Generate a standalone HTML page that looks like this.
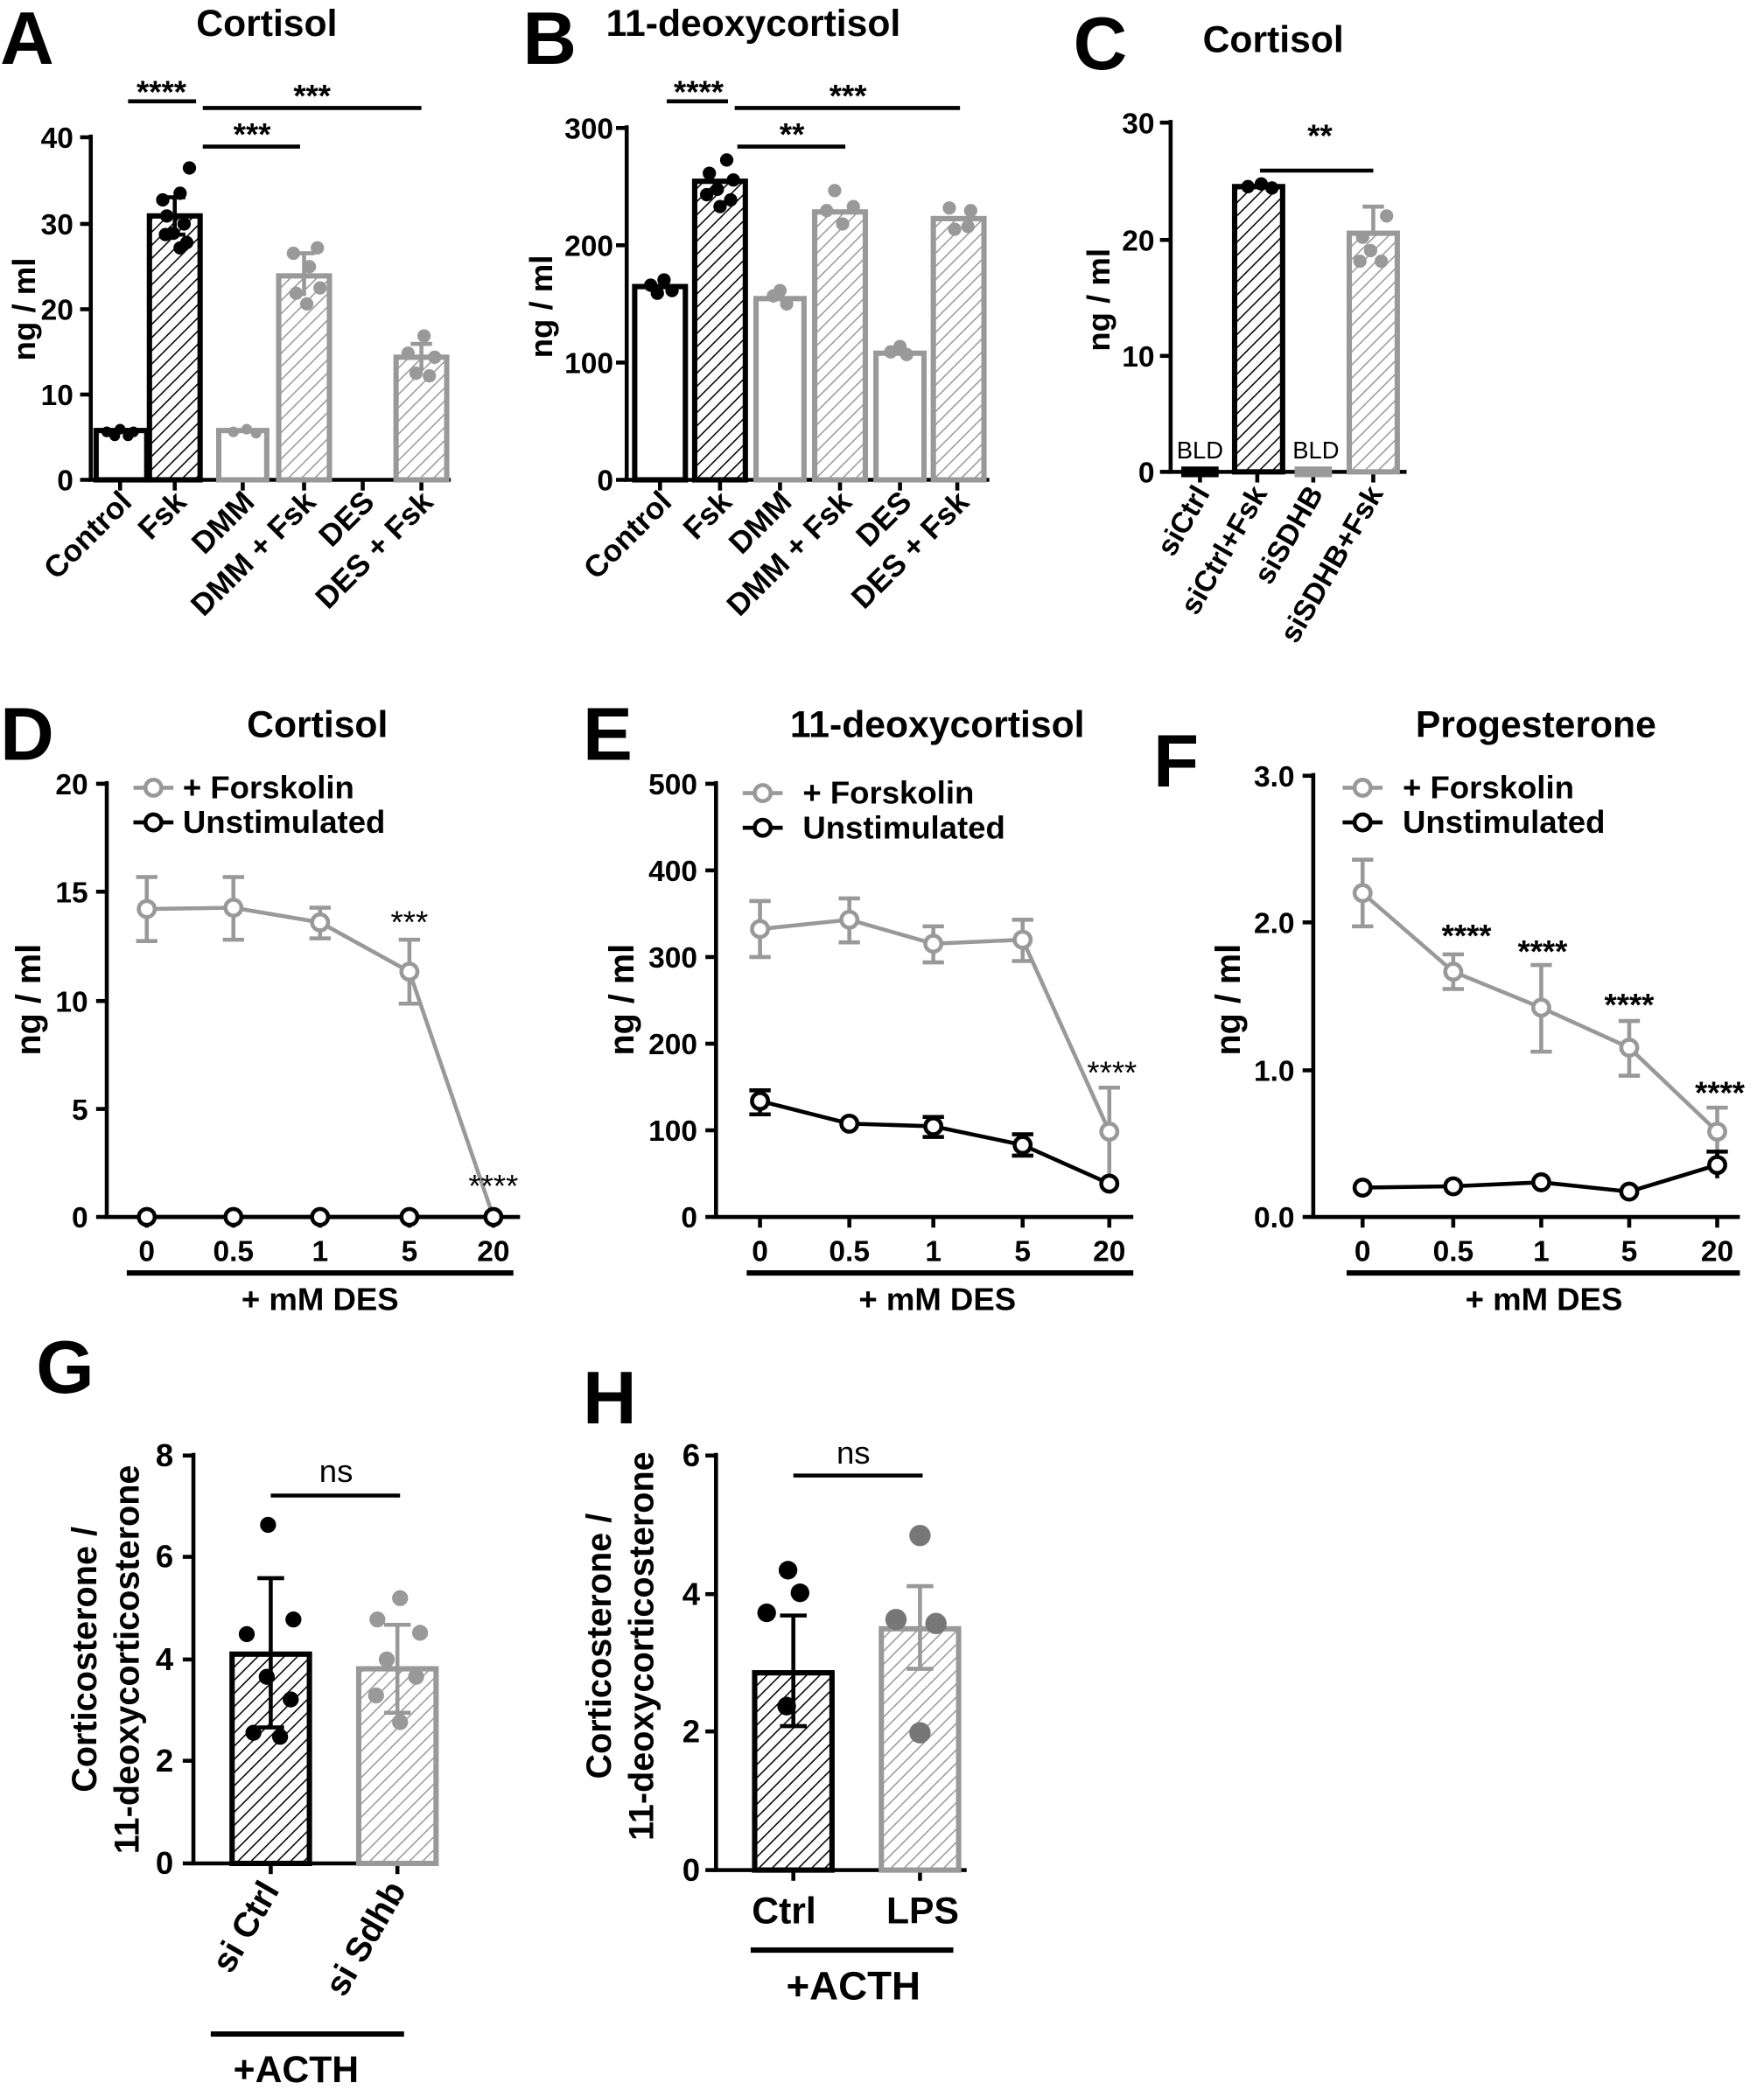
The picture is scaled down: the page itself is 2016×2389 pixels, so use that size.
<!DOCTYPE html>
<html><head><meta charset="utf-8"><style>
html,body{margin:0;padding:0;background:#fff}
svg{display:block}
text{font-family:"Liberation Sans",Arial,sans-serif;font-weight:bold;fill:#000}
</style></head><body>
<svg width="2016" height="2389" viewBox="0 0 1323 1568" xmlns="http://www.w3.org/2000/svg">
<defs>
<pattern id="hk" patternUnits="userSpaceOnUse" width="7" height="7" patternTransform="rotate(45)"><line x1="0" y1="0" x2="0" y2="7" stroke="#000" stroke-width="2"/></pattern>
<pattern id="hg" patternUnits="userSpaceOnUse" width="7" height="7" patternTransform="rotate(45)"><line x1="0" y1="0" x2="0" y2="7" stroke="#999" stroke-width="2"/></pattern>
</defs>
<g stroke-linecap="butt">
<text x="0" y="48" font-size="56">A</text>
<text x="392" y="48" font-size="56">B</text>
<text x="805" y="52" font-size="56">C</text>
<text x="0" y="570" font-size="56">D</text>
<text x="437" y="570" font-size="56">E</text>
<text x="865" y="590" font-size="56">F</text>
<text x="27" y="1045" font-size="56">G</text>
<text x="437" y="1068" font-size="56">H</text>

<!-- ===== Panel A ===== -->
<text x="200" y="27" font-size="28" text-anchor="middle">Cortisol</text>
<text transform="translate(26,232) rotate(-90)" font-size="24" text-anchor="middle">ng / ml</text>
<g stroke="#000" stroke-width="3" fill="none">
<line x1="68" y1="101" x2="68" y2="361"/><line x1="66" y1="360" x2="338" y2="360"/>
<line x1="60" y1="103" x2="68" y2="103"/><line x1="60" y1="168" x2="68" y2="168"/><line x1="60" y1="232" x2="68" y2="232"/><line x1="60" y1="296" x2="68" y2="296"/><line x1="60" y1="360" x2="68" y2="360"/>
<line x1="90" y1="360" x2="90" y2="368"/><line x1="131" y1="360" x2="131" y2="368"/><line x1="182" y1="360" x2="182" y2="368"/><line x1="228" y1="360" x2="228" y2="368"/><line x1="272" y1="360" x2="272" y2="368"/><line x1="316" y1="360" x2="316" y2="368"/>
<line x1="96" y1="76" x2="147" y2="76"/><line x1="152" y1="81" x2="316" y2="81"/><line x1="152" y1="110" x2="225" y2="110"/>
</g>
<g font-size="22" text-anchor="end">
<text x="55" y="111">40</text><text x="55" y="176">30</text><text x="55" y="240">20</text><text x="55" y="304">10</text><text x="55" y="368">0</text>
</g>
<g font-size="24" text-anchor="middle"><text x="121" y="77">****</text><text x="234" y="80">***</text><text x="189" y="109">***</text></g>
<rect x="72" y="323" width="38" height="37" fill="#fff" stroke="#000" stroke-width="4"/>
<rect x="112" y="162" width="38" height="198" fill="url(#hk)" stroke="#000" stroke-width="4"/>
<rect x="164" y="323" width="36" height="37" fill="#fff" stroke="#999" stroke-width="4"/>
<rect x="209" y="207" width="38" height="153" fill="url(#hg)" stroke="#999" stroke-width="4"/>
<rect x="297" y="268" width="38" height="92" fill="url(#hg)" stroke="#999" stroke-width="4"/>
<g stroke-width="3" fill="none"><path d="M131 148V176M123 148H139M123 176H139" stroke="#000"/><path d="M228 190V222M220 190H236" stroke="#999"/><path d="M316 258V278M308 258H324" stroke="#999"/></g>
<g fill="#000"><circle cx="80" cy="324" r="4"/><circle cx="90" cy="322" r="4"/><circle cx="100" cy="324" r="4"/><circle cx="86" cy="327" r="4"/><circle cx="96" cy="327" r="4"/>
<circle cx="142" cy="126" r="5"/><circle cx="122" cy="150" r="5"/><circle cx="135" cy="145" r="5"/><circle cx="125" cy="162" r="5"/><circle cx="138" cy="168" r="5"/><circle cx="130" cy="175" r="5"/><circle cx="140" cy="182" r="5"/><circle cx="124" cy="176" r="5"/><circle cx="135" cy="186" r="5"/></g>
<g fill="#999"><circle cx="175" cy="324" r="4"/><circle cx="185" cy="322" r="4"/><circle cx="192" cy="325" r="4"/>
<circle cx="238" cy="186" r="5"/><circle cx="220" cy="190" r="5"/><circle cx="232" cy="200" r="5"/><circle cx="222" cy="220" r="5"/><circle cx="240" cy="216" r="5"/><circle cx="230" cy="228" r="5"/>
<circle cx="318" cy="252" r="5"/><circle cx="306" cy="265" r="5"/><circle cx="326" cy="268" r="5"/><circle cx="312" cy="280" r="5"/><circle cx="322" cy="282" r="5"/></g>
<g font-size="23" text-anchor="end">
<text transform="translate(100,378) rotate(-45)">Control</text><text transform="translate(141,378) rotate(-45)">Fsk</text><text transform="translate(192,378) rotate(-45)">DMM</text><text transform="translate(238,378) rotate(-45)">DMM + Fsk</text><text transform="translate(282,378) rotate(-45)">DES</text><text transform="translate(326,378) rotate(-45)">DES + Fsk</text>
</g>

<!-- ===== Panel B ===== -->
<text x="565" y="27" font-size="28" text-anchor="middle">11-deoxycortisol</text>
<text transform="translate(414,230) rotate(-90)" font-size="24" text-anchor="middle">ng / ml</text>
<g stroke="#000" stroke-width="3" fill="none">
<line x1="470" y1="94" x2="470" y2="361"/><line x1="468" y1="360" x2="742" y2="360"/>
<line x1="462" y1="96" x2="470" y2="96"/><line x1="462" y1="184" x2="470" y2="184"/><line x1="462" y1="272" x2="470" y2="272"/><line x1="462" y1="360" x2="470" y2="360"/>
<line x1="495" y1="360" x2="495" y2="368"/><line x1="540" y1="360" x2="540" y2="368"/><line x1="585" y1="360" x2="585" y2="368"/><line x1="630" y1="360" x2="630" y2="368"/><line x1="675" y1="360" x2="675" y2="368"/><line x1="718" y1="360" x2="718" y2="368"/>
<line x1="500" y1="76" x2="546" y2="76"/><line x1="551" y1="81" x2="720" y2="81"/><line x1="553" y1="110" x2="634" y2="110"/>
</g>
<g font-size="22" text-anchor="end"><text x="460" y="104">300</text><text x="460" y="192">200</text><text x="460" y="280">100</text><text x="460" y="368">0</text></g>
<g font-size="24" text-anchor="middle"><text x="524" y="77">****</text><text x="636" y="80">***</text><text x="594" y="109">**</text></g>
<rect x="476" y="215" width="38" height="145" fill="#fff" stroke="#000" stroke-width="4"/>
<rect x="521" y="136" width="38" height="224" fill="url(#hk)" stroke="#000" stroke-width="4"/>
<rect x="567" y="224" width="36" height="136" fill="#fff" stroke="#999" stroke-width="4"/>
<rect x="611" y="159" width="38" height="201" fill="url(#hg)" stroke="#999" stroke-width="4"/>
<rect x="657" y="265" width="36" height="95" fill="#fff" stroke="#999" stroke-width="4"/>
<rect x="700" y="164" width="38" height="196" fill="url(#hg)" stroke="#999" stroke-width="4"/>
<g fill="#000"><circle cx="488" cy="214" r="5"/><circle cx="498" cy="210" r="5"/><circle cx="504" cy="218" r="5"/><circle cx="493" cy="220" r="5"/>
<circle cx="545" cy="120" r="5"/><circle cx="532" cy="130" r="5"/><circle cx="550" cy="135" r="5"/><circle cx="538" cy="142" r="5"/><circle cx="548" cy="150" r="5"/><circle cx="530" cy="146" r="5"/><circle cx="540" cy="155" r="5"/></g>
<g fill="#999"><circle cx="580" cy="222" r="5"/><circle cx="590" cy="228" r="5"/><circle cx="585" cy="218" r="5"/>
<circle cx="626" cy="143" r="5"/><circle cx="620" cy="158" r="5"/><circle cx="640" cy="155" r="5"/><circle cx="632" cy="168" r="5"/>
<circle cx="668" cy="264" r="5"/><circle cx="680" cy="266" r="5"/><circle cx="675" cy="260" r="5"/>
<circle cx="712" cy="156" r="5"/><circle cx="728" cy="158" r="5"/><circle cx="716" cy="172" r="5"/><circle cx="726" cy="170" r="5"/></g>
<g font-size="23" text-anchor="end">
<text transform="translate(505,378) rotate(-45)">Control</text><text transform="translate(550,378) rotate(-45)">Fsk</text><text transform="translate(595,378) rotate(-45)">DMM</text><text transform="translate(640,378) rotate(-45)">DMM + Fsk</text><text transform="translate(685,378) rotate(-45)">DES</text><text transform="translate(728,378) rotate(-45)">DES + Fsk</text>
</g>

<!-- ===== Panel C ===== -->
<text x="955" y="39" font-size="28" text-anchor="middle">Cortisol</text>
<text transform="translate(832,225) rotate(-90)" font-size="24" text-anchor="middle">ng / ml</text>
<g stroke="#000" stroke-width="3" fill="none">
<line x1="878" y1="90" x2="878" y2="355"/><line x1="876" y1="354" x2="1055" y2="354"/>
<line x1="870" y1="92" x2="878" y2="92"/><line x1="870" y1="180" x2="878" y2="180"/><line x1="870" y1="267" x2="878" y2="267"/><line x1="870" y1="354" x2="878" y2="354"/>
<line x1="900" y1="354" x2="900" y2="362"/><line x1="943" y1="354" x2="943" y2="362"/><line x1="985" y1="354" x2="985" y2="362"/><line x1="1030" y1="354" x2="1030" y2="362"/>
<line x1="945" y1="128" x2="1030" y2="128"/>
</g>
<g font-size="22" text-anchor="end"><text x="866" y="100">30</text><text x="866" y="188">20</text><text x="866" y="275">10</text><text x="866" y="362">0</text></g>
<text x="990" y="110" font-size="24" text-anchor="middle">**</text>
<g font-size="18" text-anchor="middle"><text x="900" y="344" style="font-weight:normal">BLD</text><text x="987" y="344" style="font-weight:normal">BLD</text></g>
<line x1="886" y1="354" x2="914" y2="354" stroke="#000" stroke-width="8"/>
<line x1="971" y1="354" x2="999" y2="354" stroke="#999" stroke-width="8"/>
<rect x="926" y="140" width="36" height="214" fill="url(#hk)" stroke="#000" stroke-width="4"/>
<rect x="1012" y="175" width="36" height="179" fill="url(#hg)" stroke="#999" stroke-width="4"/>
<path d="M1030 155V175M1022 155H1038" stroke="#999" stroke-width="3"/>
<g fill="#000"><circle cx="936" cy="140" r="5"/><circle cx="946" cy="138" r="5"/><circle cx="954" cy="141" r="5"/></g>
<g fill="#999"><circle cx="1040" cy="162" r="5"/><circle cx="1022" cy="178" r="5"/><circle cx="1028" cy="188" r="5"/><circle cx="1036" cy="196" r="5"/><circle cx="1020" cy="196" r="5"/></g>
<g font-size="22" text-anchor="end">
<text transform="translate(908,370) rotate(-60)">siCtrl</text><text transform="translate(951,370) rotate(-60)">siCtrl+Fsk</text><text transform="translate(993,370) rotate(-60)">siSDHB</text><text transform="translate(1038,370) rotate(-60)">siSDHB+Fsk</text>
</g>

<!-- ===== Panel D ===== -->
<text x="238" y="553" font-size="28" text-anchor="middle">Cortisol</text>
<text transform="translate(30,750) rotate(-90)" font-size="26" text-anchor="middle">ng / ml</text>
<g stroke="#000" stroke-width="3" fill="none">
<line x1="80" y1="586" x2="80" y2="914"/><line x1="78" y1="913" x2="390" y2="913"/>
<line x1="72" y1="588" x2="80" y2="588"/><line x1="72" y1="669" x2="80" y2="669"/><line x1="72" y1="751" x2="80" y2="751"/><line x1="72" y1="832" x2="80" y2="832"/><line x1="72" y1="913" x2="80" y2="913"/>
<line x1="110" y1="913" x2="110" y2="921"/><line x1="175" y1="913" x2="175" y2="921"/><line x1="240" y1="913" x2="240" y2="921"/><line x1="307" y1="913" x2="307" y2="921"/><line x1="370" y1="913" x2="370" y2="921"/>
<line x1="95" y1="955" x2="385" y2="955" stroke-width="4"/>
</g>
<g font-size="22" text-anchor="end"><text x="66" y="596">20</text><text x="66" y="677">15</text><text x="66" y="759">10</text><text x="66" y="840">5</text><text x="66" y="921">0</text></g>
<g font-size="22" text-anchor="middle"><text x="110" y="946">0</text><text x="175" y="946">0.5</text><text x="240" y="946">1</text><text x="307" y="946">5</text><text x="370" y="946">20</text></g>
<text x="240" y="983" font-size="24" text-anchor="middle">+ mM DES</text>
<g stroke="#999" stroke-width="3" fill="none"><path d="M110 682L175 681L240 692L307 729L370 913"/><path d="M110 658V706M102 658H118M102 706H118M175 658V705M167 658H183M167 705H183M240 681V704M232 681H248M232 704H248M307 705V753M299 705H315M299 753H315"/></g>
<g fill="#fff" stroke="#999" stroke-width="3"><circle cx="110" cy="682" r="6"/><circle cx="175" cy="681" r="6"/><circle cx="240" cy="692" r="6"/><circle cx="307" cy="729" r="6"/></g>
<line x1="110" y1="913" x2="370" y2="913" stroke="#000" stroke-width="3"/>
<g fill="#fff" stroke="#000" stroke-width="3"><circle cx="110" cy="913" r="6"/><circle cx="175" cy="913" r="6"/><circle cx="240" cy="913" r="6"/><circle cx="307" cy="913" r="6"/><circle cx="370" cy="913" r="6"/></g>
<g font-size="24" text-anchor="middle"><text x="307" y="700" style="font-weight:normal">***</text><text x="370" y="898" style="font-weight:normal">****</text></g>
<line x1="100" y1="591" x2="130" y2="591" stroke="#999" stroke-width="3"/><circle cx="115" cy="591" r="6" fill="#fff" stroke="#999" stroke-width="3"/>
<line x1="100" y1="617" x2="130" y2="617" stroke="#000" stroke-width="3"/><circle cx="115" cy="617" r="6" fill="#fff" stroke="#000" stroke-width="3"/>
<text x="137" y="599" font-size="24">+ Forskolin</text><text x="137" y="625" font-size="24">Unstimulated</text>

<!-- ===== Panel E ===== -->
<text x="703" y="553" font-size="28" text-anchor="middle">11-deoxycortisol</text>
<text transform="translate(475,750) rotate(-90)" font-size="26" text-anchor="middle">ng / ml</text>
<g stroke="#000" stroke-width="3" fill="none">
<line x1="537" y1="586" x2="537" y2="914"/><line x1="535" y1="913" x2="850" y2="913"/>
<line x1="529" y1="588" x2="537" y2="588"/><line x1="529" y1="653" x2="537" y2="653"/><line x1="529" y1="718" x2="537" y2="718"/><line x1="529" y1="783" x2="537" y2="783"/><line x1="529" y1="848" x2="537" y2="848"/><line x1="529" y1="913" x2="537" y2="913"/>
<line x1="570" y1="913" x2="570" y2="921"/><line x1="637" y1="913" x2="637" y2="921"/><line x1="700" y1="913" x2="700" y2="921"/><line x1="767" y1="913" x2="767" y2="921"/><line x1="832" y1="913" x2="832" y2="921"/>
<line x1="560" y1="955" x2="850" y2="955" stroke-width="4"/>
</g>
<g font-size="22" text-anchor="end"><text x="523" y="596">500</text><text x="523" y="661">400</text><text x="523" y="726">300</text><text x="523" y="791">200</text><text x="523" y="856">100</text><text x="523" y="921">0</text></g>
<g font-size="22" text-anchor="middle"><text x="570" y="946">0</text><text x="637" y="946">0.5</text><text x="700" y="946">1</text><text x="767" y="946">5</text><text x="832" y="946">20</text></g>
<text x="703" y="983" font-size="24" text-anchor="middle">+ mM DES</text>
<g stroke="#999" stroke-width="3" fill="none"><path d="M570 697L637 690L700 708L767 705L832 849"/><path d="M570 676V718M562 676H578M562 718H578M637 674V707M629 674H645M629 707H645M700 695V722M692 695H708M692 722H708M767 690V721M759 690H775M759 721H775M832 816V882M824 816H840"/></g>
<g fill="#fff" stroke="#999" stroke-width="3"><circle cx="570" cy="697" r="6"/><circle cx="637" cy="690" r="6"/><circle cx="700" cy="708" r="6"/><circle cx="767" cy="705" r="6"/><circle cx="832" cy="849" r="6"/></g>
<g stroke="#000" stroke-width="3" fill="none"><path d="M570 826L637 843L700 845L767 859L832 888"/><path d="M570 818V836M562 818H578M562 836H578M700 838V853M692 838H708M692 853H708M767 851V867M759 851H775M759 867H775"/></g>
<g fill="#fff" stroke="#000" stroke-width="3"><circle cx="570" cy="826" r="6"/><circle cx="637" cy="843" r="6"/><circle cx="700" cy="845" r="6"/><circle cx="767" cy="859" r="6"/><circle cx="832" cy="888" r="6"/></g>
<text x="834" y="813" font-size="24" text-anchor="middle" style="font-weight:normal">****</text>
<line x1="557" y1="595" x2="587" y2="595" stroke="#999" stroke-width="3"/><circle cx="572" cy="595" r="6" fill="#fff" stroke="#999" stroke-width="3"/>
<line x1="557" y1="621" x2="587" y2="621" stroke="#000" stroke-width="3"/><circle cx="572" cy="621" r="6" fill="#fff" stroke="#000" stroke-width="3"/>
<text x="602" y="603" font-size="24">+ Forskolin</text><text x="602" y="629" font-size="24">Unstimulated</text>

<!-- ===== Panel F ===== -->
<text x="1152" y="553" font-size="28" text-anchor="middle">Progesterone</text>
<text transform="translate(930,750) rotate(-90)" font-size="26" text-anchor="middle">ng / ml</text>
<g stroke="#000" stroke-width="3" fill="none">
<line x1="985" y1="580" x2="985" y2="914"/><line x1="983" y1="913" x2="1305" y2="913"/>
<line x1="977" y1="582" x2="985" y2="582"/><line x1="977" y1="692" x2="985" y2="692"/><line x1="977" y1="803" x2="985" y2="803"/><line x1="977" y1="913" x2="985" y2="913"/>
<line x1="1022" y1="913" x2="1022" y2="921"/><line x1="1090" y1="913" x2="1090" y2="921"/><line x1="1156" y1="913" x2="1156" y2="921"/><line x1="1222" y1="913" x2="1222" y2="921"/><line x1="1288" y1="913" x2="1288" y2="921"/>
<line x1="1010" y1="955" x2="1305" y2="955" stroke-width="4"/>
</g>
<g font-size="22" text-anchor="end"><text x="971" y="590">3.0</text><text x="971" y="700">2.0</text><text x="971" y="811">1.0</text><text x="971" y="921">0.0</text></g>
<g font-size="22" text-anchor="middle"><text x="1022" y="946">0</text><text x="1090" y="946">0.5</text><text x="1156" y="946">1</text><text x="1222" y="946">5</text><text x="1288" y="946">20</text></g>
<text x="1158" y="983" font-size="24" text-anchor="middle">+ mM DES</text>
<g stroke="#999" stroke-width="3" fill="none"><path d="M1022 670L1090 729L1156 756L1222 786L1288 849"/><path d="M1022 645V695M1014 645H1030M1014 695H1030M1090 716V742M1082 716H1098M1082 742H1098M1156 724V789M1148 724H1164M1148 789H1164M1222 766V807M1214 766H1230M1214 807H1230M1288 831V868M1280 831H1296"/></g>
<g fill="#fff" stroke="#999" stroke-width="3"><circle cx="1022" cy="670" r="6"/><circle cx="1090" cy="729" r="6"/><circle cx="1156" cy="756" r="6"/><circle cx="1222" cy="786" r="6"/><circle cx="1288" cy="849" r="6"/></g>
<g stroke="#000" stroke-width="3" fill="none"><path d="M1022 891L1090 890L1156 887L1222 894L1288 874"/><path d="M1288 864V884M1280 864H1296"/></g>
<g fill="#fff" stroke="#000" stroke-width="3"><circle cx="1022" cy="891" r="6"/><circle cx="1090" cy="890" r="6"/><circle cx="1156" cy="887" r="6"/><circle cx="1222" cy="894" r="6"/><circle cx="1288" cy="874" r="6"/></g>
<g font-size="24" text-anchor="middle"><text x="1100" y="710">****</text><text x="1157" y="722">****</text><text x="1222" y="762">****</text><text x="1290" y="828">****</text></g>
<line x1="1007" y1="591" x2="1037" y2="591" stroke="#999" stroke-width="3"/><circle cx="1022" cy="591" r="6" fill="#fff" stroke="#999" stroke-width="3"/>
<line x1="1007" y1="617" x2="1037" y2="617" stroke="#000" stroke-width="3"/><circle cx="1022" cy="617" r="6" fill="#fff" stroke="#000" stroke-width="3"/>
<text x="1052" y="599" font-size="24">+ Forskolin</text><text x="1052" y="625" font-size="24">Unstimulated</text>

<!-- ===== Panel G ===== -->
<text transform="translate(72,1245) rotate(-90)" font-size="26" text-anchor="middle">Corticosterone /</text>
<text transform="translate(104,1245) rotate(-90)" font-size="26" text-anchor="middle">11-deoxycorticosterone</text>
<g stroke="#000" stroke-width="3" fill="none">
<line x1="145" y1="1090" x2="145" y2="1399"/><line x1="143" y1="1398" x2="325" y2="1398"/>
<line x1="137" y1="1092" x2="145" y2="1092"/><line x1="137" y1="1168" x2="145" y2="1168"/><line x1="137" y1="1245" x2="145" y2="1245"/><line x1="137" y1="1321" x2="145" y2="1321"/><line x1="137" y1="1398" x2="145" y2="1398"/>
<line x1="203" y1="1398" x2="203" y2="1406"/><line x1="298" y1="1398" x2="298" y2="1406"/>
<line x1="203" y1="1122" x2="300" y2="1122"/>
<line x1="158" y1="1526" x2="303" y2="1526" stroke-width="4"/>
</g>
<g font-size="24" text-anchor="end"><text x="130" y="1100">8</text><text x="130" y="1176">6</text><text x="130" y="1253">4</text><text x="130" y="1329">2</text><text x="130" y="1406">0</text></g>
<text x="252" y="1112" font-size="24" text-anchor="middle" style="font-weight:normal">ns</text>
<rect x="174" y="1241" width="58" height="157" fill="url(#hk)" stroke="#000" stroke-width="4"/>
<rect x="269" y="1252" width="58" height="146" fill="url(#hg)" stroke="#999" stroke-width="4"/>
<path d="M203 1184V1296M193 1184H213M193 1296H213" stroke="#000" stroke-width="3" fill="none"/>
<path d="M298 1219V1285M288 1219H308M288 1285H308" stroke="#999" stroke-width="3" fill="none"/>
<g fill="#000"><circle cx="201" cy="1144" r="6"/><circle cx="185" cy="1226" r="6"/><circle cx="220" cy="1215" r="6"/><circle cx="200" cy="1258" r="6"/><circle cx="218" cy="1275" r="6"/><circle cx="190" cy="1300" r="6"/><circle cx="210" cy="1303" r="6"/></g>
<g fill="#999"><circle cx="300" cy="1199" r="6"/><circle cx="283" cy="1215" r="6"/><circle cx="315" cy="1225" r="6"/><circle cx="290" cy="1245" r="6"/><circle cx="312" cy="1258" r="6"/><circle cx="282" cy="1272" r="6"/><circle cx="300" cy="1292" r="6"/></g>
<g font-size="26" text-anchor="end"><text transform="translate(210,1418) rotate(-60)">si Ctrl</text><text transform="translate(305,1418) rotate(-60)">si Sdhb</text></g>
<text x="222" y="1562" font-size="28" text-anchor="middle">+ACTH</text>

<!-- ===== Panel H ===== -->
<text transform="translate(458,1235) rotate(-90)" font-size="26" text-anchor="middle">Corticosterone /</text>
<text transform="translate(490,1235) rotate(-90)" font-size="26" text-anchor="middle">11-deoxycorticosterone</text>
<g stroke="#000" stroke-width="3" fill="none">
<line x1="537" y1="1090" x2="537" y2="1404"/><line x1="535" y1="1403" x2="725" y2="1403"/>
<line x1="529" y1="1092" x2="537" y2="1092"/><line x1="529" y1="1196" x2="537" y2="1196"/><line x1="529" y1="1299" x2="537" y2="1299"/><line x1="529" y1="1403" x2="537" y2="1403"/>
<line x1="595" y1="1403" x2="595" y2="1411"/><line x1="690" y1="1403" x2="690" y2="1411"/>
<line x1="595" y1="1107" x2="692" y2="1107"/>
<line x1="563" y1="1463" x2="715" y2="1463" stroke-width="4"/>
</g>
<g font-size="24" text-anchor="end"><text x="525" y="1100">6</text><text x="525" y="1204">4</text><text x="525" y="1307">2</text><text x="525" y="1411">0</text></g>
<text x="640" y="1098" font-size="24" text-anchor="middle" style="font-weight:normal">ns</text>
<rect x="566" y="1255" width="58" height="148" fill="url(#hk)" stroke="#000" stroke-width="4"/>
<rect x="661" y="1222" width="58" height="181" fill="url(#hg)" stroke="#999" stroke-width="4"/>
<path d="M595 1212V1295M585 1212H605M585 1295H605" stroke="#000" stroke-width="3" fill="none"/>
<path d="M690 1190V1252M680 1190H700M680 1252H700" stroke="#999" stroke-width="3" fill="none"/>
<g fill="#000"><circle cx="591" cy="1178" r="7"/><circle cx="600" cy="1195" r="7"/><circle cx="575" cy="1210" r="7"/><circle cx="590" cy="1280" r="7"/></g>
<g fill="#777"><circle cx="690" cy="1152" r="8"/><circle cx="672" cy="1215" r="8"/><circle cx="702" cy="1218" r="8"/><circle cx="690" cy="1300" r="8"/></g>
<g font-size="28" text-anchor="middle"><text x="588" y="1443">Ctrl</text><text x="692" y="1443">LPS</text></g>
<text x="640" y="1500" font-size="30" text-anchor="middle">+ACTH</text>
</g>
</svg>
</body></html>
